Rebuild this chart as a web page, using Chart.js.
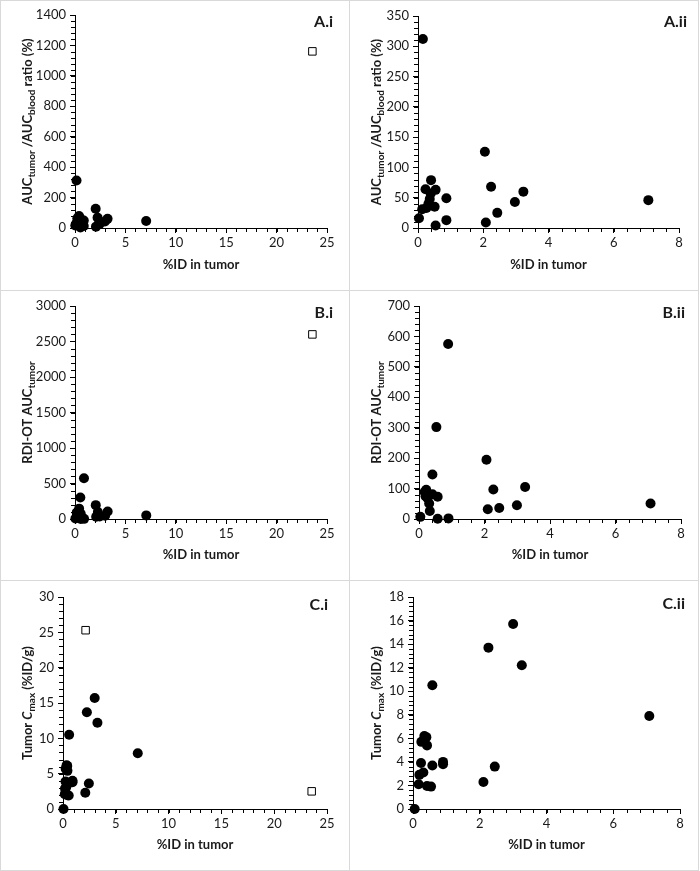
<!DOCTYPE html>
<html>
<head>
<meta charset="utf-8">
<script src="https://cdn.jsdelivr.net/npm/chart.js@4.4.1/dist/chart.umd.min.js"></script>
<style>
    html, body { margin: 0; padding: 0; background: #fff; }
    body { width: 700px; height: 871px; position: relative; overflow: hidden; }
    .panel { position: absolute; width: 350px; height: 291px; box-sizing: border-box; border: 1px solid #d9d9d9; background: #fff; }
    .panel canvas { position: absolute; left: 0; top: 0; }
</style>
</head>
<body>
<div class="panel" style="left:0;top:0"><canvas id="chart-ai" width="348" height="289"></canvas></div>
<div class="panel" style="left:349px;top:0"><canvas id="chart-aii" width="348" height="289"></canvas></div>
<div class="panel" style="left:0;top:290px"><canvas id="chart-bi" width="348" height="289"></canvas></div>
<div class="panel" style="left:349px;top:290px"><canvas id="chart-bii" width="348" height="289"></canvas></div>
<div class="panel" style="left:0;top:580px"><canvas id="chart-ci" width="348" height="289"></canvas></div>
<div class="panel" style="left:349px;top:580px"><canvas id="chart-cii" width="348" height="289"></canvas></div>

<script>
// %ID in tumor vs AUC_tumor / AUC_blood ratio (%)
const aucRatioX = [0.03, 0.13, 0.15, 0.23, 0.26, 0.32, 0.36, 0.39, 0.40, 0.51, 0.54, 0.54, 0.87, 0.87, 2.05, 2.08, 2.24, 2.43, 2.97, 3.23, 7.06];
const aucRatioY = [16, 31, 312, 64, 33, 40, 48, 57, 79, 35, 63, 4, 49, 13, 126, 9, 68, 25, 43, 60, 46];
const aucRatioOutlierX = [23.55];
const aucRatioOutlierY = [1161];

// %ID in tumor vs RDI-OT AUC_tumor
const rdiX = [0.04, 0.17, 0.20, 0.22, 0.26, 0.31, 0.33, 0.41, 0.41, 0.53, 0.57, 0.57, 0.89, 0.90, 2.06, 2.10, 2.27, 2.45, 2.99, 3.24, 7.07];
const rdiY = [7, 89, 75, 96, 68, 51, 26, 146, 81, 302, 73, 1, 575, 2, 195, 32, 97, 36, 45, 105, 51];
const rdiOutlierX = [23.55];
const rdiOutlierY = [2600];

// %ID in tumor vs tumor Cmax (%ID/g)
const cmaxX = [0.05, 0.17, 0.19, 0.24, 0.25, 0.31, 0.34, 0.40, 0.42, 0.42, 0.54, 0.58, 0.58, 0.90, 0.90, 2.11, 2.26, 2.45, 3.00, 3.26, 7.08];
const cmaxY = [0.0, 2.1, 2.9, 3.9, 5.7, 3.1, 6.2, 6.1, 5.4, 1.95, 1.9, 10.5, 3.7, 4.0, 3.8, 2.3, 13.7, 3.6, 15.7, 12.2, 7.9];
const cmaxOutlierX = [2.14, 23.55];
const cmaxOutlierY = [25.3, 2.5];

const xTitle = '%ID in tumor';
const panelLabels = ['A.i', 'A.ii', 'B.i', 'B.ii', 'C.i', 'C.ii'];

const FONT = 'Lato, "Open Sans", sans-serif';
const INK = '#1a1a1a';

function toPoints(xs, ys) {
    return xs.map((x, i) => ({ x: x, y: ys[i] }));
}

// y title with sub/italic parts, panel letter and minor ticks
const decorPlugin = {
    id: 'decor',
    afterDraw(chart, args, opts) {
        const ctx = chart.ctx;
        const area = chart.chartArea;
        const xs = chart.scales.x, ys = chart.scales.y;

        ctx.save();
        ctx.strokeStyle = '#000';
        ctx.lineWidth = 1;
        ctx.beginPath();
        const nx = Math.round((xs.max - xs.min) / opts.xMinor);
        for (let i = 0; i <= nx; i++) {
            const px = Math.round(xs.getPixelForValue(xs.min + i * opts.xMinor)) + 0.5;
            ctx.moveTo(px, area.bottom);
            ctx.lineTo(px, area.bottom + 4);
        }
        const ny = Math.round((ys.max - ys.min) / opts.yMinor);
        for (let i = 0; i <= ny; i++) {
            const py = Math.round(ys.getPixelForValue(ys.min + i * opts.yMinor)) + 0.5;
            ctx.moveTo(area.left, py);
            ctx.lineTo(area.left - 4, py);
        }
        ctx.stroke();

        // panel label
        ctx.fillStyle = INK;
        ctx.font = 'bold 16px ' + FONT;
        ctx.textAlign = 'right';
        ctx.textBaseline = 'middle';
        ctx.fillText(opts.label, opts.labelX, opts.labelY);

        // rotated y title
        const segs = opts.yTitle;
        const fontFor = s => (s.italic ? 'italic ' : '') + 'bold ' + (s.sub ? 10 : 13) + 'px ' + FONT;
        let total = 0;
        segs.forEach(s => { ctx.font = fontFor(s); total += ctx.measureText(s.t).width; });
        const cy = (area.top + area.bottom) / 2;
        ctx.translate(opts.yTitleX, cy);
        ctx.rotate(-Math.PI / 2);
        ctx.textAlign = 'left';
        ctx.textBaseline = 'middle';
        let cx = -total / 2;
        segs.forEach(s => {
            ctx.font = fontFor(s);
            ctx.fillText(s.t, cx, s.sub ? 4 : 0);
            cx += ctx.measureText(s.t).width;
        });
        ctx.restore();
    }
};

function makePanel(id, cfg) {
    const ctx = document.getElementById(id);
    const datasets = [{
        data: toPoints(cfg.xs, cfg.ys),
        pointStyle: 'circle',
        pointRadius: 5,
        pointBackgroundColor: '#000',
        pointBorderWidth: 0,
        showLine: false,
        clip: false
    }];
    if (cfg.outX) {
        datasets.push({
            data: toPoints(cfg.outX, cfg.outY),
            pointStyle: 'rect',
            pointRadius: 5.3,
            pointBackgroundColor: '#fff',
            pointBorderColor: '#000',
            pointBorderWidth: 1,
            showLine: false,
            clip: false
        });
    }
    return new Chart(ctx, {
        type: 'scatter',
        data: { datasets: datasets },
        plugins: [decorPlugin],
        options: {
            responsive: false,
            animation: false,
            events: [],
            layout: {
                padding: { left: 0, top: cfg.plot.top, right: 348 - cfg.plot.right, bottom: 0 }
            },
            plugins: {
                legend: { display: false },
                tooltip: { enabled: false },
                decor: {
                    xMinor: cfg.xMinor,
                    yMinor: cfg.yMinor,
                    label: cfg.label,
                    labelX: cfg.labelX,
                    labelY: cfg.labelY,
                    yTitle: cfg.yTitle,
                    yTitleX: 27
                }
            },
            scales: {
                x: {
                    type: 'linear',
                    min: 0,
                    max: cfg.xMax,
                    afterFit: s => { s.height = 289 - cfg.plot.bottom; },
                    ticks: {
                        stepSize: cfg.xStep,
                        color: INK,
                        padding: 2,
                        font: { family: FONT, size: 13 },
                        callback: v => String(v)
                    },
                    grid: { display: true, drawOnChartArea: false, drawTicks: true, tickLength: 5, color: '#000' },
                    border: { display: true, color: '#000', width: 1 },
                    title: {
                        display: true,
                        text: xTitle,
                        color: INK,
                        font: { family: FONT, size: 13, weight: 'bold' },
                        padding: { top: 0, bottom: 17 }
                    }
                },
                y: {
                    type: 'linear',
                    min: 0,
                    max: cfg.yMax,
                    afterFit: s => { s.width = cfg.plot.left; },
                    ticks: {
                        stepSize: cfg.yStep,
                        color: INK,
                        padding: 4,
                        font: { family: FONT, size: 13 },
                        callback: v => String(v)
                    },
                    grid: { display: true, drawOnChartArea: false, drawTicks: true, tickLength: 5, color: '#000' },
                    border: { display: true, color: '#000', width: 1 }
                }
            }
        }
    });
}

const aucTitle = [
    { t: 'AUC' }, { t: 'tumor', sub: true }, { t: ' /AUC' }, { t: 'blood', sub: true }, { t: ' ratio (%)' }
];
const rdiTitle = [{ t: 'RDI-OT AUC' }, { t: 'tumor', sub: true }];
const cmaxTitle = [{ t: 'Tumor ' }, { t: 'C', italic: true }, { t: 'max', sub: true }, { t: ' (%ID/g)' }];

// A.i
makePanel('chart-ai', {
    xs: aucRatioX, ys: aucRatioY, outX: aucRatioOutlierX, outY: aucRatioOutlierY,
    xMax: 25, xStep: 5, xMinor: 1, yMax: 1400, yStep: 200, yMinor: 40,
    plot: { left: 74, top: 14, right: 326, bottom: 227 },
    label: panelLabels[0], labelX: 332, labelY: 21, yTitle: aucTitle
});
// A.ii
makePanel('chart-aii', {
    xs: aucRatioX, ys: aucRatioY,
    xMax: 8, xStep: 2, xMinor: 0.4, yMax: 350, yStep: 50, yMinor: 10,
    plot: { left: 68, top: 15, right: 329, bottom: 227 },
    label: panelLabels[1], labelX: 337, labelY: 21, yTitle: aucTitle
});
// B.i
makePanel('chart-bi', {
    xs: rdiX, ys: rdiY, outX: rdiOutlierX, outY: rdiOutlierY,
    xMax: 25, xStep: 5, xMinor: 1, yMax: 3000, yStep: 500, yMinor: 100,
    plot: { left: 74, top: 15, right: 326, bottom: 228 },
    label: panelLabels[2], labelX: 332, labelY: 22, yTitle: rdiTitle
});
// B.ii
makePanel('chart-bii', {
    xs: rdiX, ys: rdiY,
    xMax: 8, xStep: 2, xMinor: 0.4, yMax: 700, yStep: 100, yMinor: 20,
    plot: { left: 69, top: 15, right: 331, bottom: 228 },
    label: panelLabels[3], labelX: 335, labelY: 22, yTitle: rdiTitle
});
// C.i
makePanel('chart-ci', {
    xs: cmaxX, ys: cmaxY, outX: cmaxOutlierX, outY: cmaxOutlierY,
    xMax: 25, xStep: 5, xMinor: 1, yMax: 30, yStep: 5, yMinor: 1,
    plot: { left: 62, top: 16, right: 326, bottom: 228 },
    label: panelLabels[4], labelX: 327, labelY: 24, yTitle: cmaxTitle
});
// C.ii
makePanel('chart-cii', {
    xs: cmaxX, ys: cmaxY,
    xMax: 8, xStep: 2, xMinor: 0.4, yMax: 18, yStep: 2, yMinor: 0.4,
    plot: { left: 63, top: 16, right: 330, bottom: 228 },
    label: panelLabels[5], labelX: 335, labelY: 23, yTitle: cmaxTitle
});
</script>
</body>
</html>
